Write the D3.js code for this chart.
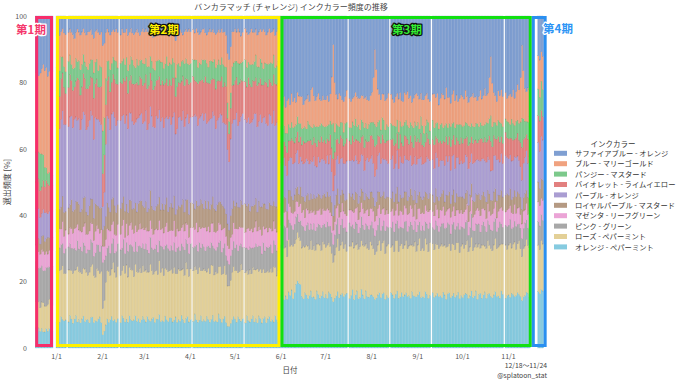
<!DOCTYPE html>
<html><head><meta charset="utf-8">
<script src="https://cdn.jsdelivr.net/npm/d3@7"></script>
<style>
body{margin:0;background:#fff}
svg{display:block}
text{font-family:"Noto Sans CJK JP","Noto Sans",sans-serif}
</style>
</head><body>
<svg id="chart" width="680" height="383"></svg>
<script>
// ---------- categories ----------
const periodRanges = [["2022-12-18","2022-12-29"],["2023-01-01","2023-05-31"],["2023-06-01","2023-11-15"],["2023-11-21","2023-11-24"]];
const missingDays = ["2023-01-08","2023-02-12","2023-04-02","2023-05-07","2023-07-16","2023-08-13","2023-09-10","2023-10-29"];
const periodBoxes = [["2022-12-18","2022-12-30"],["2023-01-01","2023-06-01"],["2023-06-01","2023-11-17"],["2023-11-17","2023-11-27"]];
const periodLabels = ["第1期","第2期","第3期","第4期"];
const xTickDates = ["2023-01-01","2023-02-01","2023-03-01","2023-04-01","2023-05-01","2023-06-01","2023-07-01","2023-08-01","2023-09-01","2023-10-01","2023-11-01"];
const xTickLabels = ["1/1","2/1","3/1","4/1","5/1","6/1","7/1","8/1","9/1","10/1","11/1"];
const yTicks = [0,20,40,60,80,100];
const seriesLabels = ["サファイアブルー - オレンジ","ブルー - マリーゴールド","パンジー - マスタード","バイオレット - ライムイエロー","パープル - オレンジ","ロイヤルパープル - マスタード","マゼンタ - リーフグリーン","ピンク - グリーン","ローズ - ペパーミント","オレンジ - ペパーミント"];

// ---------- series values (% per day) ----------
const sapphireBlueOrange = [
17,16,18,17,16,15,17,16,18,17,16,17,
6,5,6,5,4,5,6,5,4,5, 6,7,5,4,5,6,5,4,5,6, 5,5,4,6,7,5,4,5,6,5,
9,8,5,4,5,6,5,4,5,4, 5,6,4,5,5,4,6,5,4,5, 6,5,4,5,6,5,4,
5,4,5,6,4,5,7,6,5,4, 5,4,6,5,5,4,5,6,5,4, 5,8,6,5,4,5,6,5,4,5, 4,
5,4,5,4,5,6,5,4,4,5, 6,5,4,5,4,5,6,5,4,5, 4,5,5,6,12,14,10,5,5,
4,5,4,5,6,5,4,5,6,5, 4,5,5,4,6,5,4,5,4,5, 6,5,4,5,5,4,6,5,4,5,
26,27,25,28,26,25,27,24,26,25, 27,25,26,24,25,27,26,25,24,26, 22,21,25,26,24,23,25,26,24,25,
25,24,26,23,18,8,20,24,25,23, 24,26,25,24,23,25,26,24,25,23, 24,25,26,23,24,25,24,26,25,24,
23,18,9,15,22,24,25,23,24,26, 25,23,24,25,26,24,23,25,24,26, 25,23,24,22,25,24,26,25,23,24,
24,25,23,26,25,24,23,25,26,24, 23,25,24,26,25,23,24,25,22,24, 25,26,24,23,25,24,26,25,24,
24,25,23,24,26,25,24,23,25,24, 26,24,23,25,24,22,24,23,18,11, 20,23,24,25,23,24,22,24,23,25,
24,23,25,22,24,23,21,22,18,8, 16,22,23,21,22,
12,13,11,12];
const blueMarigold = [
24,25,23,24,26,28,30,31,29,31,30,32,
10,9,11,8,9,10,12,9,8,10, 11,9,8,10,9,11,10,8,9,10, 12,10,9,8,11,10,9,12,10,11,
26,22,14,10,9,11,10,8,9,10, 11,9,10,8,10,9,11,10,9,8, 10,11,9,10,8,9,11,
10,9,11,10,8,9,10,11,9,10, 8,10,9,11,10,9,10,8,11,9, 10,12,9,10,11,9,8,10,9,10, 11,
10,9,8,10,11,9,10,9,10,8, 9,11,10,9,10,8,11,10,9,10, 9,10,11,10,16,20,15,11,10,
10,9,11,10,8,9,10,11,9,10, 11,10,9,8,10,11,9,10,12,10, 9,10,11,9,10,8,10,11,10,9,
8,7,9,8,10,8,7,9,8,9, 7,8,9,8,10,7,8,9,8,7, 11,12,9,8,9,10,8,7,9,8,
8,9,7,8,14,22,15,9,8,10, 8,7,9,8,10,9,8,7,9,8, 9,8,10,7,8,9,8,9,7,8,
9,13,20,16,10,8,9,7,8,9, 8,10,9,8,7,9,8,10,9,8, 7,9,8,10,9,8,7,9,8,10,
8,9,7,8,10,9,8,7,9,8, 10,8,9,7,8,9,10,8,11,9, 8,7,9,10,8,9,7,8,9,
9,8,10,8,7,9,8,10,9,8, 7,9,10,8,9,11,8,9,12,16, 13,9,8,7,9,8,10,9,8,7,
8,9,7,10,8,9,11,10,13,20, 14,10,9,10,8,
10,11,9,10];
const pansyMustard = [
9,10,8,11,10,8,6,4,3,4,3,3,
7,6,8,7,5,6,7,8,6,5, 7,6,7,5,6,8,7,6,5,7, 6,7,5,6,8,7,6,5,7,6,
13,11,8,6,5,7,6,5,6,7, 5,6,7,6,5,6,7,5,6,7, 6,5,7,6,5,6,7,
6,5,7,6,5,6,7,5,6,6, 5,7,6,5,6,7,6,5,7,6, 5,6,7,6,5,6,5,7,6,5, 6,
6,5,6,7,5,6,5,6,7,5, 6,5,7,6,5,6,7,5,6,5, 6,7,5,6,5,4,5,6,7,
6,5,7,6,5,6,7,6,5,6, 7,5,6,7,6,5,6,7,5,6, 6,7,5,6,7,6,5,6,7,6,
5,4,5,4,6,5,4,5,4,5, 4,5,6,4,5,4,5,4,6,5, 4,5,4,5,6,4,5,4,5,4,
5,4,5,4,7,10,6,5,4,5, 4,5,4,6,5,4,5,4,5,6, 4,5,4,5,4,6,5,4,5,4,
4,5,6,5,4,5,4,5,6,4, 5,4,5,4,6,5,4,5,4,5, 6,4,5,4,5,4,5,6,4,5,
5,4,5,6,4,5,4,5,4,6, 5,4,5,4,5,6,4,5,4,5, 4,6,5,4,5,4,5,6,4,
5,4,5,4,6,5,4,5,4,5, 6,4,5,4,5,4,6,5,5,7, 6,4,5,4,5,6,4,5,4,5,
5,4,6,5,4,5,4,5,6,8, 6,5,4,5,6,
8,7,9,8];
const violetLimeYellow = [
8,7,9,8,8,9,8,10,9,8,9,8,
11,12,10,13,12,11,10,12,13,11, 12,10,11,13,12,11,10,12,11,13, 12,11,10,12,13,11,12,10,11,12,
10,11,12,11,13,12,10,11,12,13, 11,12,10,11,13,12,11,10,12,11, 13,12,11,10,12,11,12,
12,11,13,12,10,11,12,13,11,12, 10,11,12,13,11,12,10,11,13,12, 11,12,13,11,10,12,11,13,12,11, 12,
11,12,10,11,13,12,11,10,12,11, 13,12,11,12,10,11,13,12,11,10, 12,11,13,12,10,9,10,12,11,
12,11,13,12,11,10,12,11,13,12, 11,12,10,11,13,12,11,12,10,11, 13,12,11,10,12,11,13,12,11,12,
6,7,5,6,7,6,5,6,7,6, 5,6,7,6,5,7,6,5,6,7, 6,5,6,7,6,5,6,7,5,6,
6,5,7,6,7,9,7,6,5,6, 7,6,5,6,7,6,5,7,6,5, 6,7,6,5,6,7,6,5,6,7,
6,7,8,7,6,5,6,7,6,5, 6,7,6,5,7,6,5,6,7,6, 5,6,7,6,5,6,7,5,6,7,
6,5,7,6,5,6,7,6,5,6, 7,5,6,7,6,5,6,7,6,5, 6,7,5,6,7,6,5,6,7,
6,7,5,6,7,6,5,6,7,6, 5,6,7,6,5,7,6,5,7,8, 7,6,5,6,7,6,5,6,7,6,
6,5,7,6,5,6,7,6,7,9, 7,6,5,7,6,
8,9,8,7];
const purpleOrange = [
7,8,9,8,7,8,9,8,7,8,9,8,
26,27,25,28,27,26,28,25,27,26, 27,28,26,25,27,26,28,27,25,26, 28,27,26,27,25,28,26,27,28,26,
7,10,22,27,28,26,27,25,28,27, 26,28,27,25,27,28,26,27,28,26, 27,25,28,26,27,28,26,
27,28,26,27,25,28,27,26,28,27, 26,27,28,25,27,26,28,27,26,28, 27,26,25,28,27,26,28,27,25,27, 28,
27,26,28,27,25,28,26,27,28,26, 27,25,28,27,26,28,27,26,25,27, 28,26,27,28,24,22,25,27,26,
27,28,26,27,25,28,27,26,28,27, 26,27,28,26,27,25,28,27,26,28, 27,26,28,27,26,28,25,27,28,26,
11,10,12,10,11,9,10,12,11,10, 11,12,10,9,11,10,12,11,10,11, 10,11,12,10,9,11,10,12,11,10,
10,11,10,12,9,7,9,11,10,12, 11,10,9,11,12,10,11,10,12,11, 10,12,11,10,11,9,10,12,11,10,
11,10,8,9,11,12,10,11,10,12, 11,10,12,11,10,9,11,10,12,11, 10,11,10,12,11,10,9,11,10,12,
11,10,12,11,10,9,11,12,10,11, 10,11,12,10,11,10,9,11,12,10, 11,10,12,11,10,11,12,10,11,
10,11,12,10,11,10,9,11,12,10, 11,10,12,11,10,11,12,10,10,8, 9,11,10,12,11,10,11,10,12,11,
11,10,12,11,10,12,11,10,9,8, 10,11,12,10,11,
12,11,13,12];
const royalPurpleMustard = [
4,5,4,3,4,5,4,4,5,4,3,4,
7,8,6,7,8,7,6,8,7,9, 7,6,8,7,8,6,7,9,8,7, 6,8,7,8,7,9,6,7,8,7,
5,6,7,8,7,6,8,7,9,7, 6,8,7,7,8,6,7,8,7,6, 8,7,6,8,7,9,7,
7,8,6,7,9,7,8,6,7,8, 7,6,8,7,7,8,6,7,9,7, 8,7,6,8,7,7,8,6,7,8, 7,
8,7,6,7,8,7,9,7,6,8, 7,8,7,6,8,7,7,8,6,7, 8,7,6,7,7,6,7,8,7,
7,8,7,6,8,7,9,7,8,6, 7,8,7,7,6,8,7,9,7,8, 6,7,8,7,8,6,7,8,7,7,
5,4,5,4,5,4,5,5,4,5, 4,5,4,5,5,4,5,4,5,4, 5,4,5,5,4,5,4,5,4,5,
4,5,4,5,4,4,5,4,5,4, 5,4,5,4,5,5,4,5,4,5, 4,5,5,4,5,4,5,4,5,5,
5,4,4,4,5,4,5,4,5,5, 4,5,4,5,4,5,5,4,5,4, 5,4,5,4,5,5,4,5,4,5,
4,5,5,4,5,4,5,4,5,5, 4,5,4,5,4,5,5,4,5,4, 5,4,5,5,4,5,4,5,4,
5,4,5,4,5,5,4,5,4,5, 4,5,5,4,5,4,5,4,5,4, 4,5,4,5,5,4,5,4,5,5,
4,5,4,5,4,5,5,4,5,4, 4,5,4,5,5,
6,5,6,6];
const magentaLeafGreen = [
5,6,5,4,5,6,5,5,4,5,6,5,
6,5,6,5,7,5,6,4,5,6, 5,6,7,5,6,5,6,5,7,6, 5,6,5,6,5,7,6,5,6,5,
5,4,5,6,5,7,6,5,6,5, 6,5,7,6,5,6,5,6,7,5, 6,5,6,5,7,6,5,
6,5,6,7,5,6,5,6,5,7, 6,5,6,5,6,7,5,6,5,6, 7,5,6,5,6,5,7,6,5,6, 5,
5,6,5,7,6,5,6,5,6,7, 5,6,5,6,7,5,6,5,6,5, 7,6,5,6,5,5,6,5,6,
6,5,7,6,5,6,5,6,7,5, 6,5,6,7,5,6,5,6,5,7, 6,5,6,5,7,6,5,6,5,6,
4,5,4,5,4,5,5,4,5,4, 5,4,5,5,4,5,4,5,4,5, 4,5,4,5,5,4,5,4,5,4,
5,4,5,4,5,4,4,5,4,5, 4,5,5,4,5,4,5,4,5,4, 5,4,5,4,5,5,4,5,4,5,
4,5,4,4,5,4,5,5,4,5, 5,4,5,4,5,4,5,4,5,5, 4,5,4,5,4,5,5,4,5,4,
5,4,5,4,5,5,4,5,4,5, 4,5,5,4,5,4,5,4,5,4, 5,5,4,5,4,5,4,5,5,
4,5,4,5,4,5,5,4,5,4, 5,4,5,5,4,5,4,5,4,4, 5,4,5,4,5,4,5,5,4,5,
5,4,5,4,5,4,5,5,4,4, 5,4,5,4,5,
6,6,5,6];
const pinkGreen = [
12,11,10,12,11,10,11,12,11,10,11,12,
7,8,7,8,7,6,8,7,8,7, 8,7,6,8,7,8,7,8,7,6, 8,7,8,7,6,8,7,8,7,8,
14,12,8,7,8,7,8,7,6,8, 7,8,7,8,6,7,8,7,8,7, 8,7,6,8,7,8,7,
7,8,7,6,8,7,8,7,8,7, 6,8,7,8,7,8,7,6,8,7, 8,7,8,7,6,8,7,8,7,8, 7,
8,7,6,8,7,8,7,8,7,6, 8,7,8,7,6,8,7,8,7,8, 7,8,7,6,8,7,8,7,8,
7,8,7,8,6,7,8,7,8,7, 8,6,7,8,7,8,7,6,8,7, 8,7,8,7,6,8,7,8,7,8,
6,5,7,6,5,6,7,6,5,6, 7,6,5,6,7,6,5,6,7,6, 5,6,7,6,5,6,6,7,5,6,
6,7,5,6,6,5,6,7,6,5, 6,7,6,5,6,7,6,5,6,7, 6,5,6,7,6,5,6,7,6,5,
7,6,5,6,6,7,6,5,6,7, 6,5,6,7,6,5,6,7,6,5, 6,7,6,5,6,7,6,5,6,6,
6,5,6,7,6,5,6,7,6,5, 6,7,6,5,6,6,7,5,6,7, 6,5,6,7,6,5,6,7,6,
5,6,7,6,5,6,7,6,5,6, 7,6,5,6,7,6,5,6,6,5, 6,7,6,5,6,7,6,5,6,7,
6,7,6,5,6,7,6,5,6,5, 6,7,6,5,6,
7,7,8,7];
const rosePeppermint = [
8,9,8,7,8,9,8,7,8,9,8,8,
15,14,16,15,17,14,15,16,14,15, 16,15,14,17,15,16,14,15,16,15, 14,16,15,17,15,14,16,15,14,16,
8,9,13,15,16,14,15,17,15,14, 16,15,14,16,15,17,14,15,16,15, 14,16,15,14,17,15,16,
15,16,14,15,17,15,14,16,15,14, 16,15,17,14,15,16,15,14,16,15, 17,14,15,16,15,14,16,15,17,15, 14,
16,15,14,16,15,17,14,15,16,15, 14,16,15,17,15,14,16,15,14,16, 15,14,16,15,13,13,14,15,16,
15,16,14,15,17,15,16,14,15,16, 14,15,16,15,17,14,15,16,15,14, 16,15,14,16,15,17,15,14,16,15,
15,14,16,15,13,16,15,14,16,15, 14,16,15,13,15,16,14,15,16,14, 15,14,16,15,14,15,16,14,15,16,
14,16,15,14,13,11,13,15,16,14, 15,16,14,15,13,16,15,14,16,15, 14,15,16,14,15,16,14,15,14,16,
15,14,12,13,15,16,14,15,16,14, 15,16,14,15,14,16,15,14,16,15, 14,15,16,14,15,16,14,15,16,14,
15,16,14,15,14,16,15,14,16,15, 14,16,15,14,15,16,14,15,16,14, 15,14,16,15,14,16,15,14,15,
16,14,15,16,14,15,16,14,15,14, 16,15,14,16,15,14,15,16,14,13, 14,15,16,14,15,16,14,15,16,14,
15,16,14,15,16,14,15,16,14,12, 14,15,16,14,15,
14,13,15,14];
const orangePeppermint = [
6,5,6,5,6,5,5,6,5,6,5,5,
8,9,8,10,9,8,9,8,10,9, 8,9,10,8,9,8,9,10,8,9, 9,8,9,10,8,9,8,9,10,8,
4,5,7,9,8,9,10,8,9,8, 9,8,10,9,8,9,8,10,9,8, 9,10,8,9,8,9,10,
9,8,10,9,8,9,10,8,9,9, 10,8,9,8,10,9,8,9,10,8, 9,10,8,9,8,10,9,8,9,10, 8,
9,8,10,9,8,9,10,8,9,8, 10,9,8,9,10,8,9,8,10,9, 8,9,10,8,7,7,8,9,10,
9,8,10,9,8,9,8,10,9,8, 9,10,8,9,8,10,9,8,9,10, 8,9,10,8,9,8,10,9,8,9,
16,17,15,16,15,17,16,18,15,17, 20,22,21,19,16,15,17,16,15,16, 17,15,16,15,17,16,15,16,17,15,
16,15,17,16,15,13,15,16,17,15, 16,17,15,16,17,15,16,17,15,16, 17,15,16,17,16,15,17,16,15,16,
16,15,13,14,16,17,15,16,17,15, 16,15,17,16,15,16,17,15,16,17, 15,16,17,15,16,15,17,16,15,16,
16,17,15,16,15,17,16,15,16,17, 15,16,17,15,16,15,17,16,15,16, 17,15,16,17,15,16,17,15,16,
15,16,17,16,15,16,17,15,16,17, 15,16,17,15,16,17,15,16,16,14, 15,16,17,15,16,15,17,16,15,16,
16,15,17,16,15,16,17,16,15,13, 15,16,17,16,15,
17,16,18,17];

// legend order (top of stack first)
const seriesValues = [sapphireBlueOrange, blueMarigold, pansyMustard, violetLimeYellow, purpleOrange,
  royalPurpleMustard, magentaLeafGreen, pinkGreen, rosePeppermint, orangePeppermint];
const seriesColors = ["#7f9fd2","#f0a27f","#7cc98b","#e2807f","#aa9dd2","#b59a83","#eba4d6","#a8a8a8","#e3d097","#86cbe0"];
const boxColors = ["#f72d6b","#fff000","#11e011","#2a8ff0"];

// ---------- build ----------
const parse = d3.utcParse("%Y-%m-%d");
const fmt = d3.utcFormat("%Y-%m-%d");
const missing = new Set(missingDays);
const dates = [];
periodRanges.forEach(([a,b]) => {
  d3.utcDay.range(parse(a), d3.utcDay.offset(parse(b),1)).forEach(d => { if (!missing.has(fmt(d))) dates.push(d); });
});
seriesValues.forEach((arr,i) => { if (arr.length !== dates.length) throw new Error("series "+i+" length "+arr.length+" != "+dates.length); });

const keys = seriesLabels.map((_,i)=>"s"+i);
const rows = dates.map((d,j) => { const r = {date:d}; keys.forEach((k,i)=> r[k] = seriesValues[i][j]); return r; });
const stackKeys = keys.slice().reverse(); // bottom first
const stacked = d3.stack().keys(stackKeys).offset(d3.stackOffsetExpand)(rows);

const svg = d3.select("#chart");
const x = d3.scaleUtc().domain([parse("2023-01-01"), parse("2023-11-01")]).range([56, 508]);
const y = d3.scaleLinear().domain([0, 100]).range([348, 16]);
const colorOf = k => seriesColors[keys.indexOf(k)];

const gBars = svg.append("g");
stacked.forEach(layer => {
  const c = colorOf(layer.key);
  gBars.append("g").selectAll("rect").data(layer).join("rect")
    .attr("x", d => x(d.data.date))
    .attr("width", d => x(d3.utcDay.offset(d.data.date,1)) - x(d.data.date))
    .attr("y", d => y(d[1]*100))
    .attr("height", d => y(d[0]*100) - y(d[1]*100))
    .attr("fill", c)
    .attr("stroke", d3.color(c).darker(0.25))
    .attr("stroke-width", 0.25);
});

// axes
const yAxis = d3.axisLeft(y).tickValues(yTicks).tickSize(0).tickPadding(8);
svg.append("g").attr("transform","translate(35,0)").call(yAxis)
  .call(g => g.select(".domain").remove())
  .selectAll("text").attr("font-size",7).attr("fill","#555").style("font-family","'Noto Sans CJK JP'");
const xAxis = d3.axisBottom(x).tickValues(xTickDates.map(parse)).tickFormat((d,i)=>xTickLabels[i]).tickSize(0).tickPadding(6);
svg.append("g").attr("transform","translate(0,348)").call(xAxis)
  .call(g => g.select(".domain").remove())
  .selectAll("text").attr("font-size",7).attr("fill","#555").style("font-family","'Noto Sans CJK JP'");

// titles
svg.append("text").attr("x",291).attr("y",10).attr("text-anchor","middle").attr("font-size",8).attr("fill","#444")
  .text("バンカラマッチ (チャレンジ) インクカラー頻度の推移");
svg.append("text").attr("x",290).attr("y",373).attr("text-anchor","middle").attr("font-size",7.5).attr("fill","#444").text("日付");
svg.append("text").attr("transform","translate(10,182) rotate(-90)").attr("text-anchor","middle").attr("font-size",8).attr("fill","#444").text("選出頻度 [%]");
svg.append("text").attr("x",547).attr("y",368).attr("text-anchor","end").attr("font-size",6.8).attr("fill","#444").text("12/18～11/24");
svg.append("text").attr("x",547).attr("y",378).attr("text-anchor","end").attr("font-size",6.8).attr("fill","#444").text("@splatoon_stat");

// period boxes
const boxG = svg.append("g");
periodBoxes.forEach(([a,b],i) => {
  const x0 = x(parse(a)) + 1.5, x1 = x(parse(b)) - 1.5;
  boxG.append("rect").attr("x",x0).attr("y",y(100)+1.5).attr("width",x1-x0).attr("height",y(0)-y(100)-4)
    .attr("fill","none").attr("stroke",boxColors[i]).attr("stroke-width",3);
});
const labelPos = [[31,34],[164,34],[407,34],[558,33]];
const labelFill = ["#f5386d","#fff000","#33ee33","#2d95f5"];
const labelHalo = ["#ffffff","#111111","#111111","#ffffff"];
periodLabels.forEach((t,i) => {
  svg.append("text").attr("x",labelPos[i][0]).attr("y",labelPos[i][1]).attr("text-anchor","middle")
    .attr("font-size",11.5).attr("font-weight","bold").attr("fill",labelFill[i])
    .attr("stroke",labelHalo[i]).attr("stroke-width",2.5).attr("stroke-linejoin","round").attr("paint-order","stroke")
    .text(t);
});

// legend
const lg = svg.append("g");
lg.append("text").attr("x",613).attr("y",147).attr("text-anchor","middle").attr("font-size",7.5).attr("fill","#333").text("インクカラー");
seriesLabels.forEach((t,i) => {
  const cy = 153.3 + i*10.4;
  lg.append("rect").attr("x",554).attr("y",cy-2.5).attr("width",13).attr("height",5).attr("fill",seriesColors[i]);
  lg.append("text").attr("x",575).attr("y",cy+2.6).attr("font-size",7.3).attr("fill","#333").text(t);
});
</script>
</body></html>
